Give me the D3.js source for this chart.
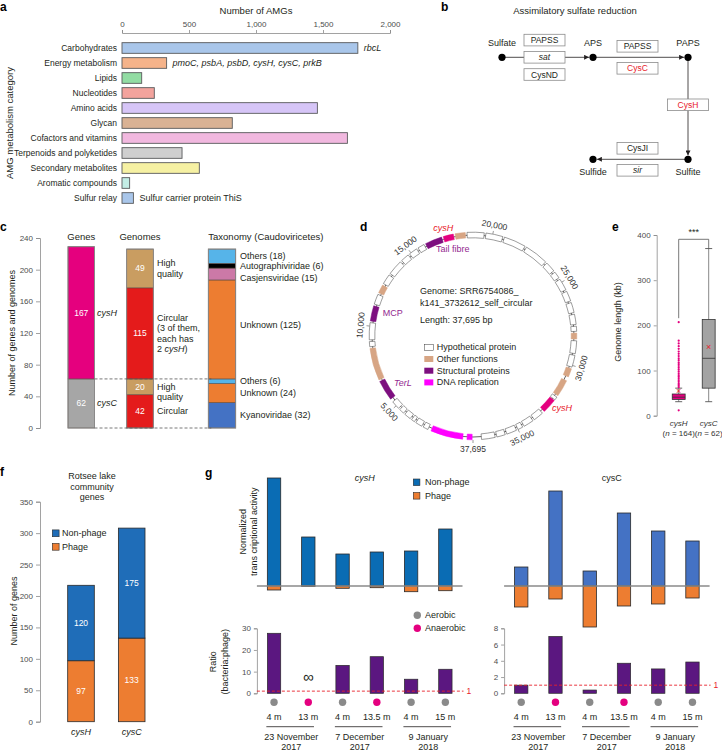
<!DOCTYPE html>
<html>
<head>
<meta charset="utf-8">
<script src="https://cdn.jsdelivr.net/npm/d3@7"></script>
<style>
  body { margin: 0; background: #fff; }
  svg { display: block; }
</style>
</head>
<body>
<script>
// ---- data: a ----
const amgCategories = ["Carbohydrates", "Energy metabolism", "Lipids", "Nucleotides", "Amino acids", "Glycan",
  "Cofactors and vitamins", "Terpenoids and polyketides", "Secondary metabolites", "Aromatic compounds", "Sulfur relay"];
const amgCounts = [1760, 333, 147, 241, 1458, 823, 1682, 448, 577, 57, 85];
const amgNotes = ["rbcL", "pmoC, psbA, psbD, cysH, cysC, prkB", "", "", "", "", "", "", "", "", "Sulfur carrier protein ThiS"];
const amgTicks = [0, 500, 1000, 1500, 2000];

// ---- data: b ----
const sulfurCompounds = ["Sulfate", "APS", "PAPS", "Sulfite", "Sulfide"];
const sulfurSteps = [
  { from: "Sulfate", to: "APS", enzymes: ["PAPSS", "sat", "CysND"] },
  { from: "APS", to: "PAPS", enzymes: ["PAPSS", "CysC"] },
  { from: "PAPS", to: "Sulfite", enzymes: ["CysH"] },
  { from: "Sulfite", to: "Sulfide", enzymes: ["CysJI", "sir"] },
];
const viralEnzymes = ["CysC", "CysH"];
const italicEnzymes = ["sat", "sir"];

// ---- data: c ----
const geneNames = ["cysC", "cysH"];
const geneCounts = [62, 167];
const genomeKinds = ["Circular", "High quality", "Circular", "High quality"];
const genomeCounts = [42, 20, 115, 49];
const taxonNames = ["Kyanoviridae", "Unknown", "Others", "Unknown", "Casjensviridae", "Autographiviridae", "Others"];
const taxonCounts = [32, 24, 6, 125, 15, 6, 18];
const countTicks = [0, 40, 80, 120, 160, 200, 240];

// ---- data: d ----
const genomeLength = 37695;
const circleTicks = [5000, 10000, 15000, 20000, 25000, 30000, 35000, 37695];
const phageGenes = [
  [50, 350, "dna"], [600, 2500, "dna"], [2700, 3000, "hyp"], [3100, 3500, "hyp"], [3600, 3800, "hyp"],
  [3900, 4300, "hyp"], [4400, 4700, "hyp"], [4800, 5300, "hyp"], [5500, 6700, "str"], [6800, 8700, "oth"],
  [8800, 9100, "hyp"], [9200, 10200, "hyp"], [10300, 11200, "str"], [11300, 11900, "hyp"], [12000, 12500, "oth"],
  [12600, 13200, "hyp"], [13300, 14200, "hyp"], [14300, 14800, "hyp"], [14900, 15400, "hyp"], [15500, 15900, "hyp"],
  [16000, 17000, "str"], [17100, 17700, "cysH"], [17800, 18400, "oth"], [18500, 19500, "hyp"], [19600, 20600, "hyp"],
  [20700, 22000, "hyp"], [22100, 23500, "hyp"], [23600, 24200, "hyp"], [24300, 24700, "hyp"], [24800, 25500, "hyp"],
  [25600, 26200, "hyp"], [26300, 26900, "hyp"], [27000, 27600, "hyp"], [27700, 28000, "hyp"], [28100, 28450, "oth"],
  [28550, 29300, "hyp"], [29400, 30100, "hyp"], [30200, 30700, "oth"], [30950, 31950, "oth"], [32050, 32250, "hyp"],
  [32300, 33150, "cysH"], [33300, 33900, "hyp"], [34000, 34600, "hyp"], [34700, 35000, "hyp"], [35100, 35700, "hyp"],
  [35800, 36300, "hyp"], [36400, 37200, "hyp"],
];
const geneLegend = [["hyp", "Hypothetical protein"], ["oth", "Other functions"], ["str", "Structural proteins"], ["dna", "DNA replication"]];

// ---- data: e ----
const lengthGroups = ["cysH", "cysC"];
const lengthCounts = [164, 62];
const lengthStats = [
  { min: 31, q1: 36, median: 41, q3: 48, max: 61, mean: 54 },
  { min: 31, q1: 61, median: 127, q3: 213, max: 370, mean: 153 },
];
const cysHOutliers = [12, 63, 66, 69, 72, 76, 79, 83, 87, 90, 94, 98, 102, 106, 110, 114, 118, 123, 127, 132, 137, 142, 148, 154, 160, 166, 207];
const lengthTicks = [0, 100, 200, 300, 400];

// ---- data: f ----
const communityGenes = ["cysH", "cysC"];
const communityPhage = [97, 133];
const communityNonPhage = [120, 175];
const communityTicks = [0, 50, 100, 150, 200, 250, 300, 350];

// ---- data: g ----
const sampleDepths = ["4 m", "13 m", "4 m", "13.5 m", "4 m", "15 m"];
const sampleOxygen = ["Aerobic", "Anaerobic", "Aerobic", "Anaerobic", "Aerobic", "Aerobic"];
const sampleDates = [["23 November", "2017"], ["7 December", "2017"], ["9 January", "2018"]];
const cysHNonPhage = [10.8, 4.9, 3.2, 3.4, 3.5, 5.7];
const cysHPhage = [0.4, 0.05, 0.23, 0.17, 0.57, 0.47];
const cysCNonPhage = [1.9, 9.5, 1.5, 7.3, 5.5, 4.5];
const cysCPhage = [2.1, 1.3, 4.1, 2.0, 1.8, 1.2];
const cysHRatio = [27.7, Infinity, 12.9, 16.9, 6.5, 11.1];
const cysCRatio = [1.0, 7.0, 0.4, 3.7, 3.0, 3.85];
const cysHRatioTicks = [0, 10, 20, 30];
const cysCRatioTicks = [0, 2, 4, 6, 8];

// ---- styles ----
const width = 722;
const height = 753;
const font = "'Liberation Sans', Arial, Helvetica, sans-serif";
const ink = "#231f20";
const tickInk = "#4d4d4d";
const amgColors = ["#a9c6ea", "#f5b38a", "#92dca3", "#f3a39d", "#d6c5f7", "#d9b294", "#f1b8df", "#cfcfcf", "#f6f1a3", "#c3ede5", "#a9c6ea"];
const geneBarColors = { cysC: "#a6a6a6", cysH: "#e5007e" };
const genomeColors = { Circular: "#e41b1b", "High quality": "#c99d61" };
const taxonColors = { Kyanoviridae: "#4472c4", Unknown: "#ed7d31", Others: "#56b4e9", Casjensviridae: "#cc79a7", Autographiviridae: "#000000" };
const geneColor = { hyp: "#ffffff", oth: "#d7a584", str: "#7d0f7f", dna: "#ff00ff", cysH: "#e4007f" };
const phageOrange = "#ed7d31";
const purple = "#5b1780";
const red = "#e8202a";
const violet = "#93278f";

const svg = d3.select("body")
  .append("svg")
  .attr("width", width)
  .attr("height", height)
  .attr("viewBox", `0 0 ${width} ${height}`)
  .attr("font-family", font);

svg.append("rect").attr("width", width).attr("height", height).attr("fill", "#fff");

function label(parent, x, y, text, opts = {}) {
  const t = parent.append("text")
    .attr("fill", opts.fill ?? ink)
    .attr("font-size", opts.size ?? 8.5)
    .attr("text-anchor", opts.anchor ?? "start")
    .attr("dominant-baseline", "central")
    .text(text);
  if (opts.weight) t.attr("font-weight", opts.weight);
  if (opts.italic) t.attr("font-style", "italic");
  if (opts.rotate != null) t.attr("transform", `translate(${x},${y}) rotate(${opts.rotate})`);
  else t.attr("x", x).attr("y", y);
  return t;
}

function richLabel(parent, x, y, parts, opts = {}) {
  const t = label(parent, x, y, null, opts);
  parts.forEach(([s, it]) => t.append("tspan").attr("font-style", it ? "italic" : null).text(s));
  return t;
}

function styleAxis(g) {
  g.attr("font-family", font).attr("font-size", 8);
  g.selectAll("path, line").attr("stroke", "#8a8a8a").attr("stroke-width", 0.8);
  g.selectAll("text").attr("fill", tickInk);
}

function stackOf(values) {
  let acc = 0;
  return values.map((v) => {
    const seg = { y0: acc, y1: acc + v, v };
    acc += v;
    return seg;
  });
}

// panel letters
[["a", 0, 7], ["b", 441, 7], ["c", 0, 227], ["d", 360, 227], ["e", 612, 227], ["f", 0, 472], ["g", 205, 473]]
  .forEach(([s, x, y]) => label(svg, x, y, s, { size: 12, weight: 700, fill: "#000" }));

svg.append("defs")
  .append("marker")
  .attr("id", "arrow")
  .attr("viewBox", "0 0 10 10")
  .attr("refX", 10)
  .attr("refY", 5)
  .attr("markerUnits", "userSpaceOnUse")
  .attr("markerWidth", 5)
  .attr("markerHeight", 5)
  .attr("orient", "auto")
  .append("path")
  .attr("d", "M0,0L10,5L0,10z")
  .attr("fill", ink);

// ================= a: AMG categories =================
const gA = svg.append("g");
const xA = d3.scaleLinear().domain([0, 2000]).range([122, 390]);
const yA = d3.scaleBand().domain(amgCategories).range([40.5, 205.5]).paddingInner(0.29).paddingOuter(0.145);

label(gA, xA(1000), 10, "Number of AMGs", { size: 9.5, anchor: "middle" });
gA.append("g")
  .attr("transform", "translate(0,33)")
  .call(d3.axisTop(xA).tickValues(amgTicks).tickSize(3).tickFormat(d3.format(",")))
  .call(styleAxis);

gA.selectAll("rect.amg")
  .data(amgCategories)
  .join("rect")
  .attr("x", xA(0))
  .attr("y", (d) => yA(d))
  .attr("width", (d, i) => xA(amgCounts[i]) - xA(0))
  .attr("height", yA.bandwidth())
  .attr("fill", (d, i) => amgColors[i])
  .attr("stroke", "#58595b")
  .attr("stroke-width", 0.9);

amgCategories.forEach((c, i) => {
  const yc = yA(c) + yA.bandwidth() / 2;
  label(gA, 117, yc, c, { anchor: "end" });
  if (amgNotes[i]) {
    label(gA, xA(amgCounts[i]) + 6, yc, amgNotes[i], { size: 9, italic: i < amgCategories.length - 1 });
  }
});
label(gA, 9, 123, "AMG metabolism category", { size: 9.5, anchor: "middle", rotate: -90 });

// ================= b: sulfate reduction =================
const gB = svg.append("g");
label(gB, 575, 10, "Assimilatory sulfate reduction", { size: 9.5, anchor: "middle" });
const nodeXY = { Sulfate: [502, 57.3], APS: [593, 57.3], PAPS: [688, 57.3], Sulfite: [688, 159.3], Sulfide: [593, 159.3] };
const dotR = 3.6;

sulfurSteps.forEach((step) => {
  const [x1, y1] = nodeXY[step.from];
  const [x2, y2] = nodeXY[step.to];
  const len = Math.hypot(x2 - x1, y2 - y1);
  const ux = (x2 - x1) / len;
  const uy = (y2 - y1) / len;
  gB.append("line")
    .attr("x1", x1)
    .attr("y1", y1)
    .attr("x2", x2 - ux * (dotR + 0.3))
    .attr("y2", y2 - uy * (dotR + 0.3))
    .attr("stroke", ink)
    .attr("stroke-width", 0.8)
    .attr("marker-end", "url(#arrow)");

  const horizontal = Math.abs(uy) < 0.5;
  const mx = (x1 + x2) / 2 - (horizontal ? 3 : 0);
  const my = (y1 + y2) / 2;
  const n = step.enzymes.length;
  const offsets = n === 3 ? [-17.2, 0, 17.2] : n === 2 ? [-11, 11] : [-3.5];
  step.enzymes.forEach((enz, i) => {
    const bx = mx;
    const by = my + offsets[i];
    gB.append("rect")
      .attr("x", bx - 20.5)
      .attr("y", by - 5.8)
      .attr("width", 41)
      .attr("height", 11.6)
      .attr("fill", "#fff")
      .attr("stroke", "#8c8c8c")
      .attr("stroke-width", 0.8);
    label(gB, bx, by, enz, {
      size: 8.5,
      anchor: "middle",
      italic: italicEnzymes.includes(enz),
      fill: viralEnzymes.includes(enz) ? red : ink,
    });
  });
});

sulfurCompounds.forEach((c) => {
  const [x, y] = nodeXY[c];
  gB.append("circle").attr("cx", x).attr("cy", y).attr("r", dotR).attr("fill", "#000");
  const below = c === "Sulfite" || c === "Sulfide";
  label(gB, x, below ? y + 12.5 : y - 14, c, { size: 9, anchor: "middle" });
});

// ================= c: genes / genomes / taxonomy =================
const gC = svg.append("g");
const yC = d3.scaleLinear().domain([0, 240]).range([428, 238]);
gC.append("g")
  .attr("transform", "translate(40,0)")
  .call(d3.axisLeft(yC).tickValues(countTicks).tickSize(4))
  .call(styleAxis);
label(gC, 12, 333, "Number of genes and genomes", { size: 9, anchor: "middle", rotate: -90 });

const colC = { genes: [68, 26.5], genomes: [126.7, 26.6], taxa: [208.3, 27.4] };

function drawStack(values, colors, [x, w]) {
  const segs = stackOf(values);
  gC.selectAll(null)
    .data(segs)
    .join("rect")
    .attr("x", x)
    .attr("y", (d) => yC(d.y1))
    .attr("width", w)
    .attr("height", (d) => yC(d.y0) - yC(d.y1))
    .attr("fill", (d, i) => colors[i])
    .attr("stroke", "#5a4a42")
    .attr("stroke-width", 0.6);
  gC.append("rect")
    .attr("x", x)
    .attr("y", yC(segs[segs.length - 1].y1))
    .attr("width", w)
    .attr("height", yC(0) - yC(segs[segs.length - 1].y1))
    .attr("fill", "none")
    .attr("stroke", "#8a8a8a")
    .attr("stroke-width", 0.9);
  return segs;
}

const geneSegs = drawStack(geneCounts, geneNames.map((g) => geneBarColors[g]), colC.genes);
const genomeSegs = drawStack(genomeCounts, genomeKinds.map((k) => genomeColors[k]), colC.genomes);
const taxonSegs = drawStack(taxonCounts, taxonNames.map((t) => taxonColors[t]), colC.taxa);

// dashed guides at the cysC/cysH split and baseline
[geneCounts[0], 0].forEach((v) => {
  gC.append("line")
    .attr("x1", colC.genes[0] + colC.genes[1])
    .attr("x2", colC.taxa[0] + 3)
    .attr("y1", yC(v))
    .attr("y2", yC(v))
    .attr("stroke", "#555")
    .attr("stroke-width", 0.8)
    .attr("stroke-dasharray", "3,2");
});

label(gC, colC.genes[0] + colC.genes[1] / 2, 236, "Genes", { size: 9.5, anchor: "middle" });
label(gC, colC.genomes[0] + colC.genomes[1] / 2, 236, "Genomes", { size: 9.5, anchor: "middle" });
label(gC, colC.taxa[0], 236, "Taxonomy (Caudoviricetes)", { size: 9.5 });

geneSegs.forEach((s, i) => {
  const yc = yC((s.y0 + s.y1) / 2);
  label(gC, colC.genes[0] + colC.genes[1] / 2, yc, s.v, { size: 8.5, anchor: "middle", fill: "#fff" });
  label(gC, 97, yc, geneNames[i], { size: 9, italic: true });
});
genomeSegs.forEach((s) => {
  label(gC, colC.genomes[0] + colC.genomes[1] / 2, yC((s.y0 + s.y1) / 2), s.v, { size: 8.5, anchor: "middle", fill: "#fff" });
});
const genomeTextX = 157;
[[0, ["Circular"]], [1, ["High", "quality"]], [2, ["Circular", "(3 of them,", "each has", null]], [3, ["High", "quality"]]]
  .forEach(([i, lines]) => {
    const s = genomeSegs[i];
    const yc = yC((s.y0 + s.y1) / 2);
    const top = i === 1 ? yc : yc - ((lines.length - 1) * 10.5) / 2;
    lines.forEach((ln, j) => {
      if (ln === null) richLabel(gC, genomeTextX, top + j * 10.5, [["2 ", false], ["cysH", true], [")", false]], { size: 9 });
      else label(gC, genomeTextX, top + j * 10.5, ln, { size: 9 });
    });
  });

const taxonNudge = [0, 0, 0, -4, 4, 0, 0];
taxonSegs.forEach((s, i) => {
  label(gC, 240, yC((s.y0 + s.y1) / 2) + taxonNudge[i], `${taxonNames[i]} (${s.v})`, { size: 9 });
});

// ================= d: circular genome =================
const cx = 473;
const cy = 336;
const rD = 101;
const gD = svg.append("g").attr("transform", `translate(${cx},${cy})`);
const angD = d3.scaleLinear().domain([0, genomeLength]).range([Math.PI, 3 * Math.PI]);

gD.append("circle").attr("r", rD).attr("fill", "none").attr("stroke", ink).attr("stroke-width", 0.7);

const geneArc = d3.arc().innerRadius(rD - 2.8).outerRadius(rD + 2.8);
gD.selectAll("path.gene")
  .data(phageGenes)
  .join("path")
  .attr("d", (d) => geneArc({ startAngle: angD(d[0]), endAngle: angD(d[1]) }))
  .attr("fill", (d) => geneColor[d[2]])
  .attr("stroke", (d) => (d[2] === "hyp" ? "#3a3a3a" : geneColor[d[2]]))
  .attr("stroke-width", 0.5);

circleTicks.forEach((t) => {
  const a = angD(t);
  const s = Math.sin(a);
  const c = -Math.cos(a);
  gD.append("line")
    .attr("x1", (rD + 3) * s)
    .attr("y1", (rD + 3) * c)
    .attr("x2", (rD + 6) * s)
    .attr("y2", (rD + 6) * c)
    .attr("stroke", "#555")
    .attr("stroke-width", 0.6);
  let deg = ((a * 180) / Math.PI) % 360;
  const rot = deg > 90 && deg < 270 ? deg - 180 : deg;
  label(gD, (rD + 12) * s, (rD + 12) * c, d3.format(",")(t), { size: 8.5, anchor: "middle", rotate: rot, fill: "#333" });
});

label(svg, 420, 290.7, "Genome: SRR6754086_", { size: 9 });
label(svg, 420, 302.7, "k141_3732612_self_circular", { size: 9 });
label(svg, 420, 319.5, "Length: 37,695 bp", { size: 9 });
geneLegend.forEach(([k, name], i) => {
  const y = 347.3 + i * 11.7;
  svg.append("rect")
    .attr("x", 424.3)
    .attr("y", y - 3)
    .attr("width", 9)
    .attr("height", 6)
    .attr("fill", geneColor[k])
    .attr("stroke", k === "hyp" ? "#3a3a3a" : "none")
    .attr("stroke-width", 0.5);
  label(svg, 436.7, y, name, { size: 9 });
});
label(svg, 443.3, 228, "cysH", { size: 9, anchor: "middle", italic: true, fill: red });
label(svg, 436, 249, "Tail fibre", { size: 9, fill: violet });
label(svg, 382.7, 313.3, "MCP", { size: 9, fill: violet });
label(svg, 394, 383.3, "TerL", { size: 9, fill: violet, italic: true });
label(svg, 552, 408, "cysH", { size: 9, fill: red, italic: true });

// ================= e: genome length boxplot =================
const gE = svg.append("g");
const yE = d3.scaleLinear().domain([0, 400]).range([415.7, 235]);
const xE = d3.scaleBand().domain(lengthGroups).range([663.7, 723.7]).paddingInner(0.57).paddingOuter(0.285);
gE.append("g")
  .attr("transform", "translate(656.7,0)")
  .call(d3.axisLeft(yE).tickValues(lengthTicks).tickSize(3))
  .call(styleAxis);
label(gE, 618, 322, "Genome length (kb)", { size: 9, anchor: "middle", rotate: -90 });

const boxFill = ["#e4007f", "#a3a3a3"];
lengthGroups.forEach((g, i) => {
  const st = lengthStats[i];
  const xc = xE(g) + xE.bandwidth() / 2;
  const bw = xE.bandwidth();
  gE.append("line").attr("x1", xc).attr("x2", xc).attr("y1", yE(st.min)).attr("y2", yE(st.max))
    .attr("stroke", "#7a7a7a").attr("stroke-width", 0.9);
  [st.min, st.max].forEach((v) => {
    gE.append("line").attr("x1", xc - 3.5).attr("x2", xc + 3.5).attr("y1", yE(v)).attr("y2", yE(v))
      .attr("stroke", "#555").attr("stroke-width", 0.9);
  });
  gE.append("rect")
    .attr("x", xc - bw / 2)
    .attr("y", yE(st.q3))
    .attr("width", bw)
    .attr("height", yE(st.q1) - yE(st.q3))
    .attr("fill", boxFill[i])
    .attr("stroke", "#333")
    .attr("stroke-width", 0.8);
  gE.append("line").attr("x1", xc - bw / 2).attr("x2", xc + bw / 2).attr("y1", yE(st.median)).attr("y2", yE(st.median))
    .attr("stroke", "#333").attr("stroke-width", 0.8);
  label(gE, xc, yE(st.mean), "×", { size: 9, anchor: "middle", fill: red });
  label(gE, xc, 423.3, g, { size: 8, anchor: "middle", italic: true, fill: "#333" });
  richLabel(gE, xc, 432.7, [["(", false], ["n", true], [` = ${lengthCounts[i]})`, false]], { size: 8, anchor: "middle", fill: "#333" });
});
const xH = xE("cysH") + xE.bandwidth() / 2;
const xCc = xE("cysC") + xE.bandwidth() / 2;
gE.selectAll("circle.out")
  .data(cysHOutliers)
  .join("circle")
  .attr("cx", xH)
  .attr("cy", (d) => yE(d))
  .attr("r", 1.1)
  .attr("fill", "#e4007f");

// significance bracket
const bracketY = 239.3;
gE.append("path")
  .attr("d", `M${xH},${yE(d3.max(cysHOutliers)) - 4}V${bracketY}H${xCc}V${yE(lengthStats[1].max)}`)
  .attr("fill", "none")
  .attr("stroke", "#555")
  .attr("stroke-width", 0.8);
label(gE, (xH + xCc) / 2, 232, "***", { size: 9, anchor: "middle" });

// ================= f: Rotsee community genes =================
const gF = svg.append("g");
const yF = d3.scaleLinear().domain([0, 350]).range([721.7, 501.7]);
const xF = d3.scaleBand().domain(communityGenes).range([55.65, 157.05]).paddingInner(0.475).paddingOuter(0.2375);
gF.append("g")
  .attr("transform", "translate(40,0)")
  .call(d3.axisLeft(yF).tickValues(communityTicks).tickSize(4))
  .call(styleAxis);
label(gF, 14, 611, "Number of genes", { size: 9, anchor: "middle", rotate: -90 });
["Rotsee lake", "community", "genes"].forEach((s, i) => label(gF, 92, 476 + i * 10.5, s, { size: 9, anchor: "middle" }));

const nonPhageF = "#1f6db8";
communityGenes.forEach((g, i) => {
  const segs = stackOf([communityPhage[i], communityNonPhage[i]]);
  segs.forEach((s, j) => {
    gF.append("rect")
      .attr("x", xF(g))
      .attr("y", yF(s.y1))
      .attr("width", xF.bandwidth())
      .attr("height", yF(s.y0) - yF(s.y1))
      .attr("fill", j === 0 ? phageOrange : nonPhageF)
      .attr("stroke", "#2a2a2a")
      .attr("stroke-width", 0.8);
    label(gF, xF(g) + xF.bandwidth() / 2, yF((s.y0 + s.y1) / 2), s.v, { size: 8.5, anchor: "middle", fill: "#fff" });
  });
  label(gF, xF(g) + xF.bandwidth() / 2, 731.7, g, { size: 9, anchor: "middle", italic: true });
});
[["Non-phage", nonPhageF], ["Phage", phageOrange]].forEach(([name, col], i) => {
  const y = 533.3 + i * 13.5;
  gF.append("rect").attr("x", 52.3).attr("y", y - 3.4).attr("width", 6.8).attr("height", 6.8)
    .attr("fill", col).attr("stroke", "#2a2a2a").attr("stroke-width", 0.6);
  label(gF, 62, y, name, { size: 9 });
});

// ================= g: transcription and ratios =================
const gG = svg.append("g");
const yTop = d3.scaleLinear().domain([-5, 12]).range([636, 466]);
const sampleIdx = d3.range(sampleDepths.length);

function drawSeries(range, nonPhage, phage, ratio, ratioTicks, ratioMax, nonPhageColor, title, titleItalic) {
  const x = d3.scaleBand().domain(sampleIdx).range(range).paddingInner(0.61).paddingOuter(0.305);
  const yR = d3.scaleLinear().domain([0, ratioMax]).range([693.3, 628.3]);
  const bw = x.bandwidth();
  const xc = (i) => x(i) + bw / 2;

  label(gG, (range[0] + range[1]) / 2 + 5, 478.3, title, { size: 9, anchor: "middle", italic: titleItalic });

  // non-phage up, phage down
  gG.selectAll(null).data(sampleIdx).join("rect")
    .attr("x", (i) => x(i)).attr("y", (i) => yTop(nonPhage[i]))
    .attr("width", bw).attr("height", (i) => yTop(0) - yTop(nonPhage[i]))
    .attr("fill", nonPhageColor).attr("stroke", "#2a2a2a").attr("stroke-width", 0.8);
  gG.selectAll(null).data(sampleIdx).join("rect")
    .attr("x", (i) => x(i)).attr("y", yTop(0))
    .attr("width", bw).attr("height", (i) => yTop(-phage[i]) - yTop(0))
    .attr("fill", phageOrange).attr("stroke", "#2a2a2a").attr("stroke-width", 0.8);
  gG.append("line").attr("x1", range[0]).attr("x2", range[1]).attr("y1", yTop(0)).attr("y2", yTop(0))
    .attr("stroke", "#8a8a8a").attr("stroke-width", 1.3);

  // ratio bars
  gG.append("g")
    .attr("transform", `translate(${range[0]},0)`)
    .call(d3.axisLeft(yR).tickValues(ratioTicks).tickSize(3))
    .call(styleAxis);
  sampleIdx.forEach((i) => {
    if (!isFinite(ratio[i])) {
      label(gG, xc(i), 676.7, "∞", { size: 15, anchor: "middle" });
      return;
    }
    gG.append("rect")
      .attr("x", x(i)).attr("y", yR(ratio[i]))
      .attr("width", bw).attr("height", yR(0) - yR(ratio[i]))
      .attr("fill", purple).attr("stroke", "#2a2a2a").attr("stroke-width", 0.7);
  });
  gG.append("line").attr("x1", range[0]).attr("x2", range[1] + 1).attr("y1", yR(1)).attr("y2", yR(1))
    .attr("stroke", red).attr("stroke-width", 0.9).attr("stroke-dasharray", "3,2");
  label(gG, range[1] + 4, yR(1), "1", { size: 8.5, fill: red });

  // sample annotations
  sampleIdx.forEach((i) => {
    gG.append("circle").attr("cx", xc(i)).attr("cy", 702.3).attr("r", 3.7)
      .attr("fill", sampleOxygen[i] === "Aerobic" ? "#8a8a8a" : "#e4007f");
    label(gG, xc(i), 717.3, sampleDepths[i], { size: 9, anchor: "middle" });
  });
  sampleDates.forEach((d, k) => {
    const a = 2 * k;
    const b = 2 * k + 1;
    gG.append("line").attr("x1", x(a) - 1).attr("x2", x(b) + bw - 1).attr("y1", 726.7).attr("y2", 726.7)
      .attr("stroke", ink).attr("stroke-width", 0.8);
    label(gG, (xc(a) + xc(b)) / 2, 736.7, d[0], { size: 9, anchor: "middle" });
    label(gG, (xc(a) + xc(b)) / 2, 747.3, d[1], { size: 9, anchor: "middle" });
  });
}

drawSeries([256.9, 462.5], cysHNonPhage, cysHPhage, cysHRatio, cysHRatioTicks, 30, "#0a6cb4", "cysH", true);
drawSeries([504.1, 709.6], cysCNonPhage, cysCPhage, cysCRatio, cysCRatioTicks, 8, "#4472c4", "cysC", false);

label(gG, 243.3, 531.7, "Normalized", { size: 9, anchor: "middle", rotate: -90 });
label(gG, 254.3, 531.7, "trans criptional activity", { size: 9, anchor: "middle", rotate: -90 });
label(gG, 213.3, 661.7, "Ratio", { size: 9, anchor: "middle", rotate: -90 });
label(gG, 225, 661.7, "(bacteria:phage)", { size: 9, anchor: "middle", rotate: -90 });

[["Non-phage", "#0a6cb4"], ["Phage", phageOrange]].forEach(([name, col], i) => {
  const y = 482.3 + i * 13.5;
  gG.append("rect").attr("x", 413.3).attr("y", y - 3.3).attr("width", 6.6).attr("height", 6.6)
    .attr("fill", col).attr("stroke", "#2a2a2a").attr("stroke-width", 0.6);
  label(gG, 425, y, name, { size: 9 });
});
[["Aerobic", "#8a8a8a"], ["Anaerobic", "#e4007f"]].forEach(([name, col], i) => {
  const y = 615.3 + i * 12.9;
  gG.append("circle").attr("cx", 417.3).attr("cy", y).attr("r", 3.7).attr("fill", col);
  label(gG, 425, y, name, { size: 9 });
});
</script>
</body>
</html>
